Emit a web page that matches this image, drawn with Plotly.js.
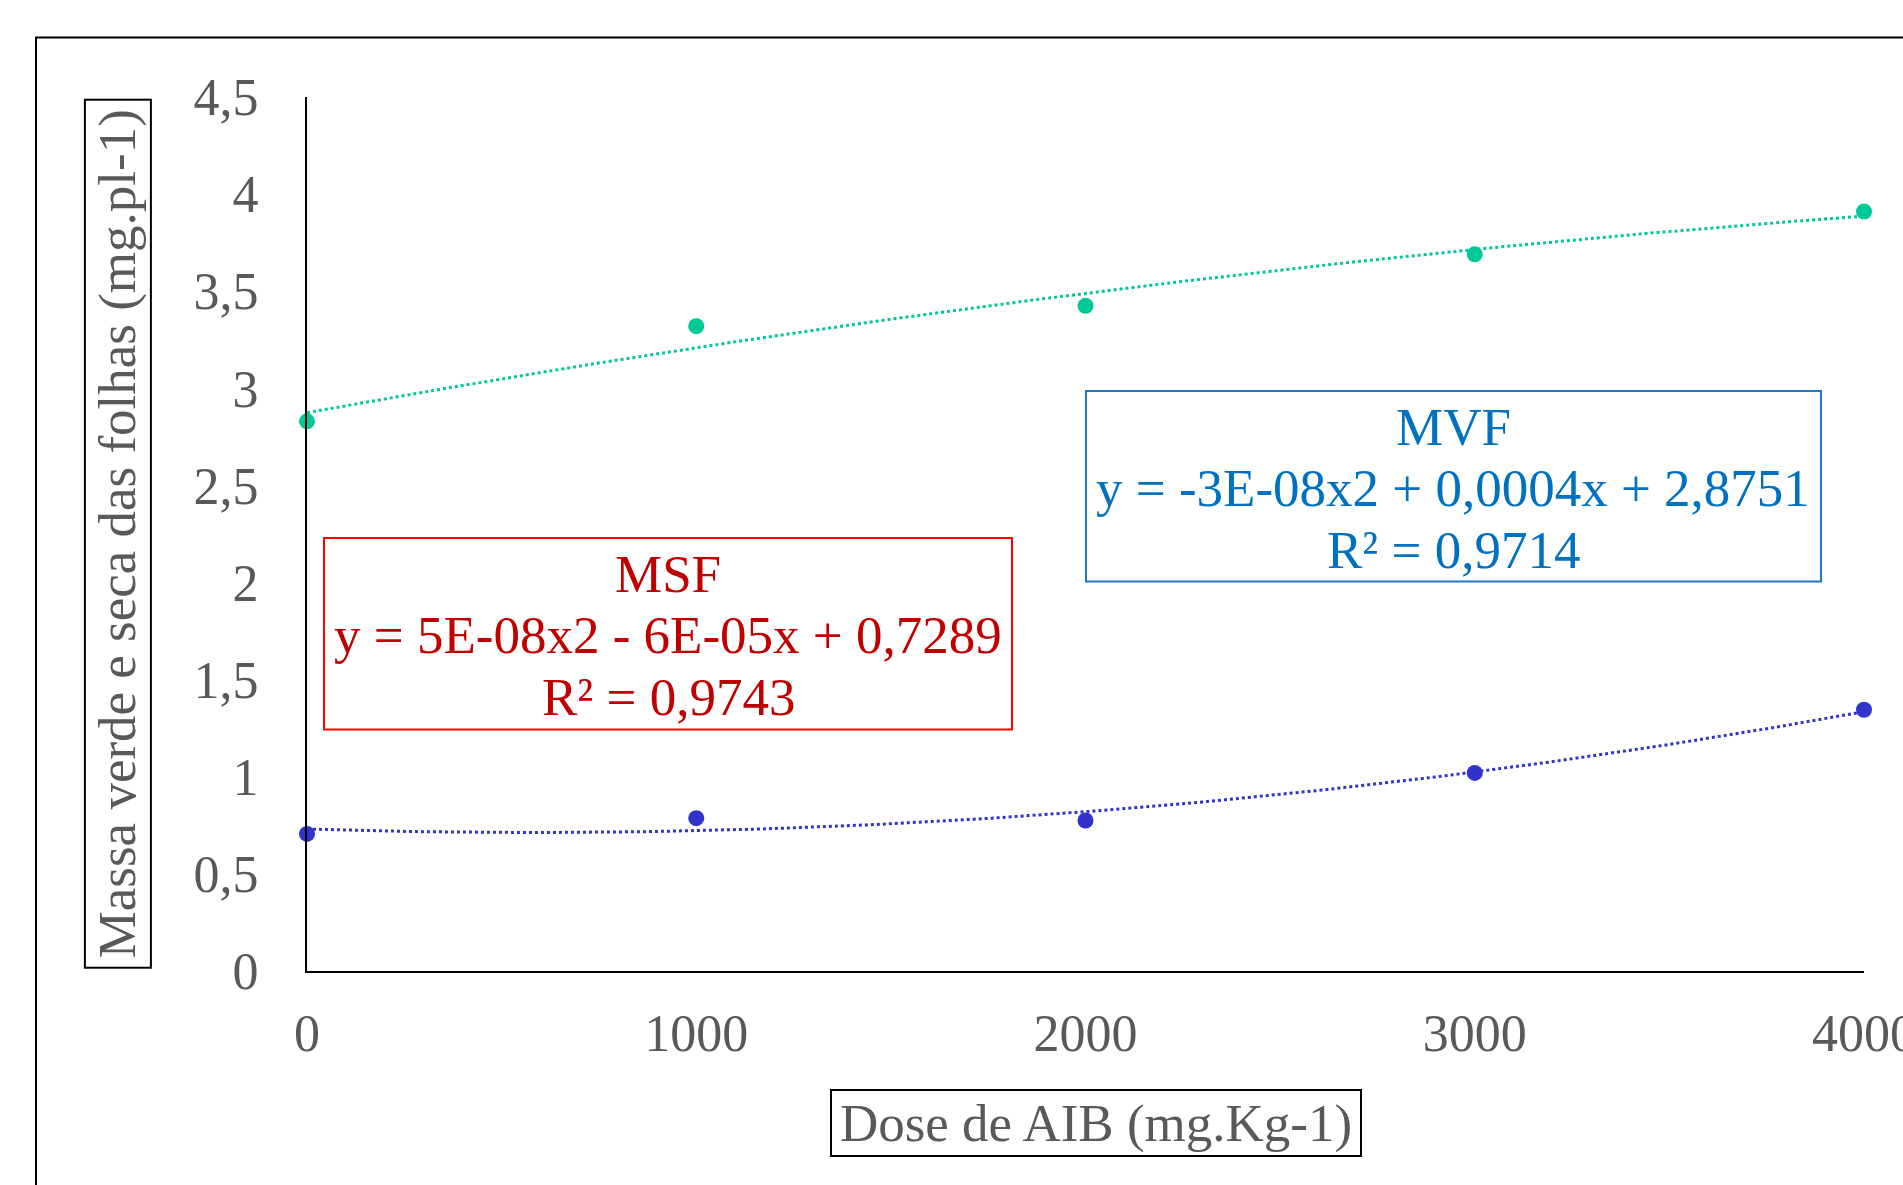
<!DOCTYPE html>
<html>
<head>
<meta charset="utf-8">
<script src="https://cdn.plot.ly/plotly-3.0.1.min.js"></script>
<style>html,body{margin:0;padding:0;background:#fff;}#chart{width:1903px;height:1185px;}</style>
</head>
<body>
<div id="chart"></div>
<script>
// ---- data ----
const doses = [0, 1000, 2000, 3000, 4000];
const mvf = [2.83, 3.32, 3.425, 3.69, 3.91];   // Massa verde das folhas
const msf = [0.706, 0.787, 0.775, 1.02, 1.345]; // Massa seca das folhas
const xTickVals = [0, 1000, 2000, 3000, 4000];
const xTickText = ['0', '1000', '2000', '3000', '4000'];
const yTickVals = [0, 0.5, 1, 1.5, 2, 2.5, 3, 3.5, 4, 4.5];
const yTickText = ['0', '0,5', '1', '1,5', '2', '2,5', '3', '3,5', '4', '4,5'];
const mvfLabel = ['MVF', 'y = -3E-08x2 + 0,0004x + 2,8751', 'R² = 0,9714'];
const msfLabel = ['MSF', 'y = 5E-08x2 - 6E-05x + 0,7289', 'R² = 0,9743'];
const xTitle = 'Dose de AIB (mg.Kg-1)';
const yTitle = 'Massa verde e seca das folhas (mg.pl-1)';

// ---- quadratic least-squares trendline (as the spreadsheet trendline) ----
function polyFit2(xs, ys) {
  let s = [0,0,0,0,0], t = [0,0,0];
  for (let i = 0; i < xs.length; i++) {
    const u = xs[i] / 1000;
    let p = 1;
    for (let k = 0; k < 5; k++) { s[k] += p; p *= u; }
    t[0] += ys[i]; t[1] += ys[i] * u; t[2] += ys[i] * u * u;
  }
  const A = [[s[0], s[1], s[2], t[0]], [s[1], s[2], s[3], t[1]], [s[2], s[3], s[4], t[2]]];
  for (let c = 0; c < 3; c++) {
    for (let r = c + 1; r < 3; r++) {
      const f = A[r][c] / A[c][c];
      for (let k = c; k < 4; k++) A[r][k] -= f * A[c][k];
    }
  }
  const x = [0,0,0];
  for (let r = 2; r >= 0; r--) {
    let v = A[r][3];
    for (let k = r + 1; k < 3; k++) v -= A[r][k] * x[k];
    x[r] = v / A[r][r];
  }
  return u => x[0] + x[1] * u + x[2] * u * u;
}
function trend(xs, ys) {
  const f = polyFit2(xs, ys);
  const tx = [], ty = [];
  for (let x = xs[0]; x <= xs[xs.length - 1]; x += 20) { tx.push(x); ty.push(f(x / 1000)); }
  return {tx, ty};
}
const mvfT = trend(doses, mvf);
const msfT = trend(doses, msf);

// ---- geometry ----
const W = 1903, H = 1185, L = 307, R = 39, T = 97, B = 214;
const fx = px => (px - L) / (W - L - R);
const fy = py => (H - B - py) / (H - T - B);

const FONT = 'Liberation Serif, Times New Roman, serif';
const GREEN = '#00C896', BLUE = '#3333CC';

const traces = [
  {x: mvfT.tx, y: mvfT.ty, mode: 'lines', line: {color: GREEN, width: 3, dash: 'dot'}, hoverinfo: 'skip', showlegend: false, cliponaxis: false},
  {x: msfT.tx, y: msfT.ty, mode: 'lines', line: {color: BLUE, width: 3, dash: 'dot'}, hoverinfo: 'skip', showlegend: false, cliponaxis: false},
  {x: doses, y: mvf, mode: 'markers', name: 'MVF', marker: {color: GREEN, size: 16}, showlegend: false, cliponaxis: false},
  {x: doses, y: msf, mode: 'markers', name: 'MSF', marker: {color: BLUE, size: 16}, showlegend: false, cliponaxis: false}
];

function boxLines(lines, cx, ys, color) {
  return lines.map((t, i) => ({
    xref: 'paper', yref: 'paper', x: fx(cx), y: fy(ys[i]), xanchor: 'center', yanchor: 'middle',
    text: t, showarrow: false, font: {family: FONT, size: 53, color: color}
  }));
}

const annotations = [
  {xref: 'paper', yref: 'paper', x: fx(118.3), y: fy(533.4), xanchor: 'center', yanchor: 'middle',
   text: yTitle, textangle: -90, showarrow: false, width: 866, height: 64, borderpad: 0,
   bordercolor: '#000', borderwidth: 2, font: {family: FONT, size: 53, color: '#595959'}},
  {xref: 'paper', yref: 'paper', x: fx(1096), y: fy(1123), xanchor: 'center', yanchor: 'middle',
   text: xTitle, showarrow: false, width: 528, height: 64, borderpad: 0,
   bordercolor: '#000', borderwidth: 2, font: {family: FONT, size: 53, color: '#595959'}}
].concat(
  boxLines(msfLabel, 668, [574, 635, 697], '#C00000'),
  boxLines(mvfLabel, 1453, [427, 488, 550], '#0070C0')
);

const shapes = [
  {type: 'rect', xref: 'paper', yref: 'paper', x0: fx(36), x1: fx(1930), y0: fy(37.5), y1: fy(1220),
   line: {color: '#000', width: 2}, fillcolor: 'rgba(0,0,0,0)'},
  {type: 'rect', xref: 'paper', yref: 'paper', x0: fx(324), x1: fx(1012), y0: fy(538), y1: fy(729.5),
   line: {color: '#FF0000', width: 2}, fillcolor: 'rgba(0,0,0,0)'},
  {type: 'rect', xref: 'paper', yref: 'paper', x0: fx(1086), x1: fx(1821), y0: fy(391), y1: fy(581.5),
   line: {color: '#1F78C8', width: 2}, fillcolor: 'rgba(0,0,0,0)'}
];

const layout = {
  width: W, height: H,
  margin: {l: L, r: R, t: T, b: B, pad: 0},
  paper_bgcolor: '#fff', plot_bgcolor: '#fff',
  showlegend: false,
  font: {family: FONT, size: 52, color: '#595959'},
  xaxis: {range: [0, 4000], tickvals: xTickVals, ticktext: xTickText, showgrid: false, zeroline: false,
          showline: true, linecolor: '#000', linewidth: 2, ticks: '', ticklabelstandoff: 16,
          ticklabeloverflow: 'allow',
          tickfont: {family: FONT, size: 52, color: '#595959'}, fixedrange: true},
  yaxis: {range: [0, 4.5], tickvals: yTickVals, ticktext: yTickText, showgrid: false, zeroline: false,
          showline: true, linecolor: '#000', linewidth: 2, ticks: '', ticklabelstandoff: 36,
          ticklabeloverflow: 'allow',
          tickfont: {family: FONT, size: 52, color: '#595959'}, fixedrange: true},
  annotations: annotations,
  shapes: shapes
};

Plotly.newPlot('chart', traces, layout, {displayModeBar: false, staticPlot: true});
</script>
</body>
</html>
